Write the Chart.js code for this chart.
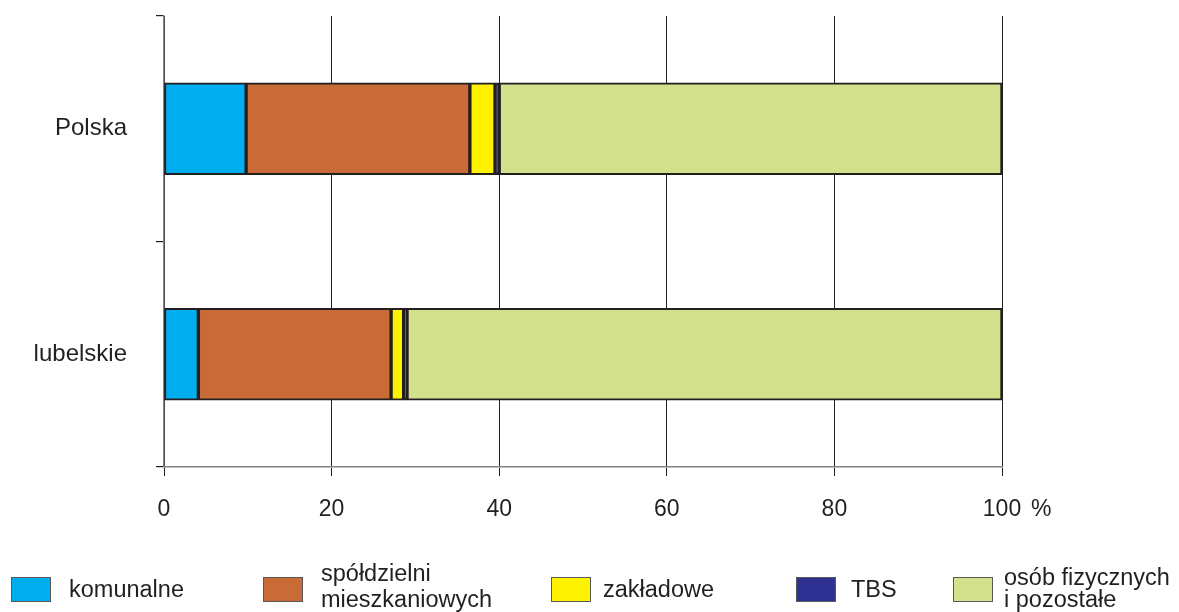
<!DOCTYPE html>
<html>
<head>
<meta charset="utf-8">
<script src="https://cdn.jsdelivr.net/npm/chart.js@4/dist/chart.umd.min.js"></script>
<style>
  html, body { margin: 0; padding: 0; background: #fff; }
  #wrap { position: relative; width: 1179px; height: 612px; overflow: hidden; }
  #legend { position: absolute; left: 0; top: 0; width: 1179px; height: 612px; pointer-events: none;
            font-family: 'Liberation Sans', Arial, sans-serif; font-size: 23.5px; color: #231f20; }
  .lg-box { position: absolute; width: 38px; height: 23px; border: 1px solid #58595b; top: 577px; }
  .lg-txt { position: absolute; white-space: nowrap; }
</style>
</head>
<body>
<div id="wrap">
  <canvas id="c" width="1179" height="612"></canvas>
  <div id="legend"></div>
</div>
<script>
// ===== DATA =====
const categories = ['Polska', 'lubelskie'];
const seriesNames = [['komunalne'], ['spółdzielni', 'mieszkaniowych'], ['zakładowe'], ['TBS'], ['osób fizycznych', 'i pozostałe']];
const komunalne = [9.8, 4.1];
const spoldzielni = [26.7, 23.0];
const zakladowe = [3.0, 1.5];
const tbs = [0.5, 0.4];
const osobFizycznych = [60.0, 71.0];
const xTicks = [0, 20, 40, 60, 80, 100];

const colors = ['#00adef', '#c96b37', '#fff200', '#2e3192', '#d4e18c'];
const values = [komunalne, spoldzielni, zakladowe, tbs, osobFizycznych];
const FONT = "'Liberation Sans', Arial, sans-serif";
const INK = '#231f20';

// '%' after the last x tick
const percentPlugin = {
    id: 'percent',
    afterDraw(chart) {
        const x = chart.scales.x;
        const g = chart.ctx;
        g.save();
        g.font = '23px ' + FONT;
        g.fillStyle = INK;
        g.textAlign = 'left';
        g.textBaseline = 'middle';
        g.fillText('%', x.getPixelForValue(100) + 29, 510);
        g.restore();
    }
};

new Chart(document.getElementById('c'), {
    type: 'bar',
    data: {
        labels: categories,
        datasets: values.map((v, i) => ({
            label: seriesNames[i].join(' '),
            data: v,
            backgroundColor: colors[i],
            borderColor: INK,
            borderWidth: 2,
            borderSkipped: false,
            barThickness: 92
        }))
    },
    options: {
        indexAxis: 'y',
        responsive: false,
        animation: false,
        layout: { padding: { top: 16, right: 177, left: 0, bottom: 0 } },
        plugins: { legend: { display: false }, tooltip: { enabled: false } },
        scales: {
            x: {
                stacked: true, min: 0, max: 100,
                afterBuildTicks: s => { s.ticks = xTicks.map(v => ({ value: v })); },
                afterFit: s => { s.height = 145; s.paddingLeft = 0; s.paddingRight = 0; },
                grid: { color: '#231f20', lineWidth: 1, tickLength: 9, drawOnChartArea: true },
                border: { display: true, color: '#808285', width: 1.5 },
                ticks: { color: INK, font: { family: FONT, size: 23 }, padding: 20, maxRotation: 0 }
            },
            y: {
                stacked: true,
                afterFit: s => { s.width = 164; s.paddingTop = 0; s.paddingBottom = 0; },
                grid: { offset: true, drawOnChartArea: false, tickLength: 8, color: INK, lineWidth: 1.2 },
                border: { display: true, color: '#808285', width: 1.5 },
                ticks: { color: INK, font: { family: FONT, size: 24 }, padding: 29 }
            }
        }
    },
    plugins: [percentPlugin]
});

// ===== LEGEND =====
const lgBoxX = [11, 263, 551, 796, 953];
const lgTxtX = [69, 321, 603, 851, 1004];
const lgTop = [577, 560, 577, 577, 566];
const lgLine = [24, 26, 24, 24, 22];
const lg = document.getElementById('legend');
seriesNames.forEach((name, i) => {
    const b = document.createElement('div');
    b.className = 'lg-box';
    b.style.left = lgBoxX[i] + 'px';
    b.style.background = colors[i];
    lg.appendChild(b);
    const t = document.createElement('div');
    t.className = 'lg-txt';
    t.style.left = lgTxtX[i] + 'px';
    t.style.top = lgTop[i] + 'px';
    t.style.lineHeight = lgLine[i] + 'px';
    t.innerHTML = name.join('<br>');
    lg.appendChild(t);
});
</script>
</body>
</html>
